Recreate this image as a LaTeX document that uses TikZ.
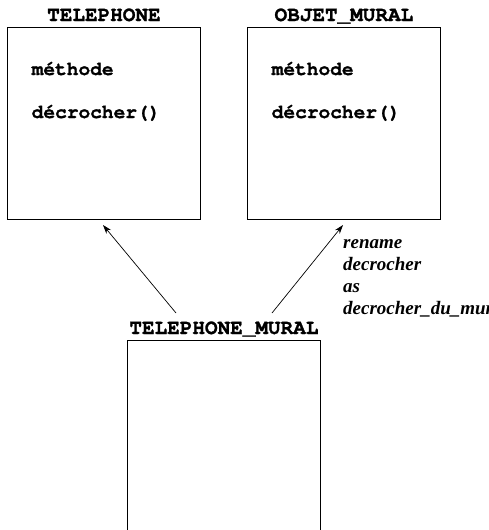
\documentclass[tikz,border=0pt]{standalone}
\usepackage{fontspec}
\setmainfont{Liberation Serif}
\setmonofont[BoldFeatures={FakeBold=1.2}]{TeX Gyre Cursor}
\usetikzlibrary{arrows.meta}
\begin{document}
\begin{tikzpicture}[x=1pt,y=1pt,
  classbox/.style={draw, line width=0.8pt, inner sep=0, anchor=north west,
                   minimum width=193pt},
  classtitle/.style={font=\ttfamily\bfseries\fontsize{21}{21}\selectfont,
                     anchor=base, inner sep=0},
  feature/.style={font=\ttfamily\bfseries\fontsize{19.5}{19.5}\selectfont,
                  anchor=base west, inner sep=0},
  note/.style={font=\bfseries\itshape\fontsize{19}{22}\selectfont,
               anchor=base west, inner sep=0},
  inherit/.style={-{Stealth[length=9pt,width=6pt]}, line width=0.7pt}]
\useasboundingbox (0,0) rectangle (489,-530);
\clip (0,0) rectangle (489,-530);

% parent classes
\node[classbox, minimum height=192pt] (tel) at (7,-27) {};
\node[classtitle] (telT) at ([yshift=6pt]tel.north) {TELEPHONE};
\node[feature] (telM) at (31.5,-75) {méthode};
\node[feature] (telD) at (31.5,-118) {décrocher()};

\node[classbox, minimum height=192pt] (obj) at (247,-27) {};
\node[classtitle] (objT) at ([yshift=6pt]obj.north) {OBJET\_MURAL};
\node[feature] (objM) at (271.5,-75) {méthode};
\node[feature] (objD) at (271.5,-118) {décrocher()};

% heir class, running past the lower edge
\node[classbox, minimum height=210pt] (mur) at (127,-340) {};
\node[classtitle] (murT) at ([yshift=6pt]mur.north) {TELEPHONE\_MURAL};

% inheritance links
\coordinate (fromL) at (176,-313);
\coordinate (fromR) at (272,-313);
\coordinate (toL) at (103,-225);
\coordinate (toR) at (343,-225);
\draw[inherit] (fromL) -- (toL);
\draw[inherit] (fromR) -- (toR);

% renaming clause
\node[note] (ren1) at (343,-248) {rename};
\node[note] (ren2) at (343,-270) {decrocher};
\node[note] (ren3) at (343,-292) {as};
\node[note] (ren4) at (343,-314) {decrocher\_du\_mural};
\end{tikzpicture}
\end{document}
